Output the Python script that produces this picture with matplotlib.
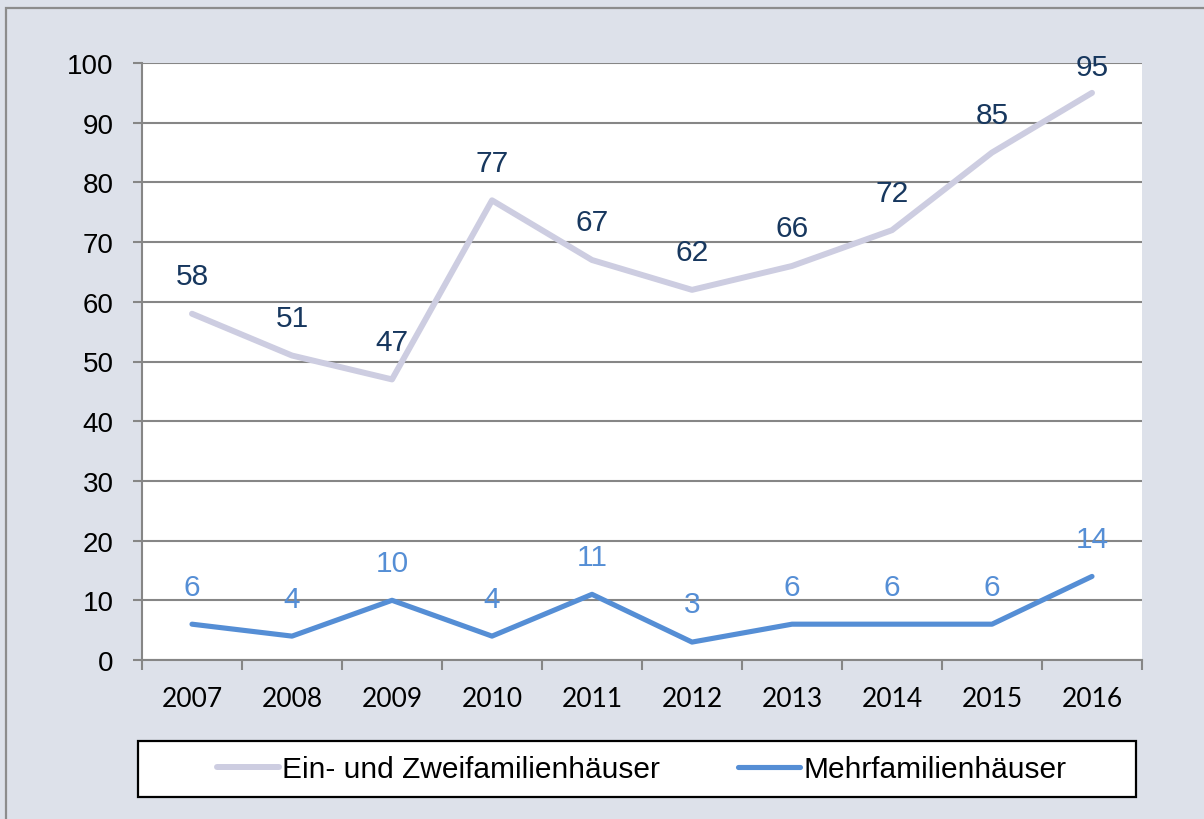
import matplotlib
matplotlib.use("Agg")
import matplotlib.pyplot as plt
from matplotlib.patches import Rectangle
from matplotlib.lines import Line2D

years = ["2007", "2008", "2009", "2010", "2011", "2012", "2013", "2014", "2015", "2016"]
ein_zwei = [58, 51, 47, 77, 67, 62, 66, 72, 85, 95]
mehr = [6, 4, 10, 4, 11, 3, 6, 6, 6, 14]
series_names = ["Ein- und Zweifamilienhäuser", "Mehrfamilienhäuser"]

W, H = 1204, 820
bg = "#DDE1EA"
grid_c = "#868686"
c_top = "#CDCDE1"
c_bot = "#558ED5"
c_lab_top = "#17375E"
arial = ["Liberation Sans", "DejaVu Sans"]

fig = plt.figure(figsize=(W / 100, H / 100), dpi=100, facecolor=bg)

# outer border (left/top visible)
fig.patches.append(Rectangle((6 / W, -0.2), 1.5, 1.2 - 9 / H, transform=fig.transFigure,
                             fill=False, edgecolor="#8C8C8C", linewidth=1.6, zorder=0))

l, r, t, b = 142, 1142, 64, 661
ax = fig.add_axes([l / W, 1 - b / H, (r - l) / W, (b - t) / H])
ax.set_facecolor("white")

x = list(range(len(years)))
ax.plot(x, ein_zwei, color=c_top, lw=4.3, solid_capstyle="round", solid_joinstyle="round", zorder=3)
ax.plot(x, mehr, color=c_bot, lw=3.7, solid_capstyle="round", solid_joinstyle="round", zorder=3)

ax.set_xlim(-0.5, len(years) - 0.5)
ax.set_ylim(0, 100)
ax.set_yticks(range(0, 101, 10))
ax.yaxis.grid(True, color=grid_c, lw=1.5)
ax.set_axisbelow(True)

for s in ["top", "right"]:
    ax.spines[s].set_visible(False)
for s in ["left", "bottom"]:
    ax.spines[s].set_color(grid_c)
    ax.spines[s].set_linewidth(1.5)

ax.tick_params(axis="y", direction="out", length=6.5, width=1.5, color=grid_c, pad=14,
               labelsize=20, labelcolor="black")
for lab in ax.get_yticklabels():
    lab.set_fontfamily(arial)

ax.set_xticks(x)
ax.set_xticklabels(years)
ax.set_xticks([i - 0.5 for i in range(len(years) + 1)], minor=True)
ax.tick_params(axis="x", which="major", length=0, pad=19, labelsize=19)
ax.tick_params(axis="x", which="minor", direction="out", length=7, width=1.5, color=grid_c)
for lab in ax.get_xticklabels():
    lab.set_fontfamily(["Lato", "DejaVu Sans"])

off = 6.3
ymax_lab = 99.3
for xi, v in zip(x, ein_zwei):
    ax.text(xi, min(v + off, ymax_lab), str(v), ha="center", va="center", fontsize=21.5,
            color=c_lab_top, family=arial, zorder=4)
for xi, v in zip(x, mehr):
    ax.text(xi, v + off, str(v), ha="center", va="center", fontsize=21.5,
            color=c_bot, family=arial, zorder=4)

# legend box
lx0, ly0, lx1, ly1 = 138, 742, 1136, 798
fig.patches.append(Rectangle((lx0 / W, 1 - ly1 / H), (lx1 - lx0) / W, (ly1 - ly0) / H,
                             transform=fig.transFigure, facecolor="white", edgecolor="black",
                             linewidth=1.6, zorder=1))
handles = [Line2D([], [], color=c_top, lw=4.3, solid_capstyle="round"),
           Line2D([], [], color=c_bot, lw=3.7, solid_capstyle="round")]
leg = fig.legend(handles, series_names, loc="center",
                 bbox_to_anchor=(641.5 / W, 1 - (ly0 + ly1) / 2 / H),
                 ncol=2, frameon=False, handlelength=2.07, handletextpad=0.1, columnspacing=2.64,
                 prop={"family": arial, "size": 21.5})
leg.set_zorder(5)

fig.savefig("out.png", dpi=100, facecolor=bg)
